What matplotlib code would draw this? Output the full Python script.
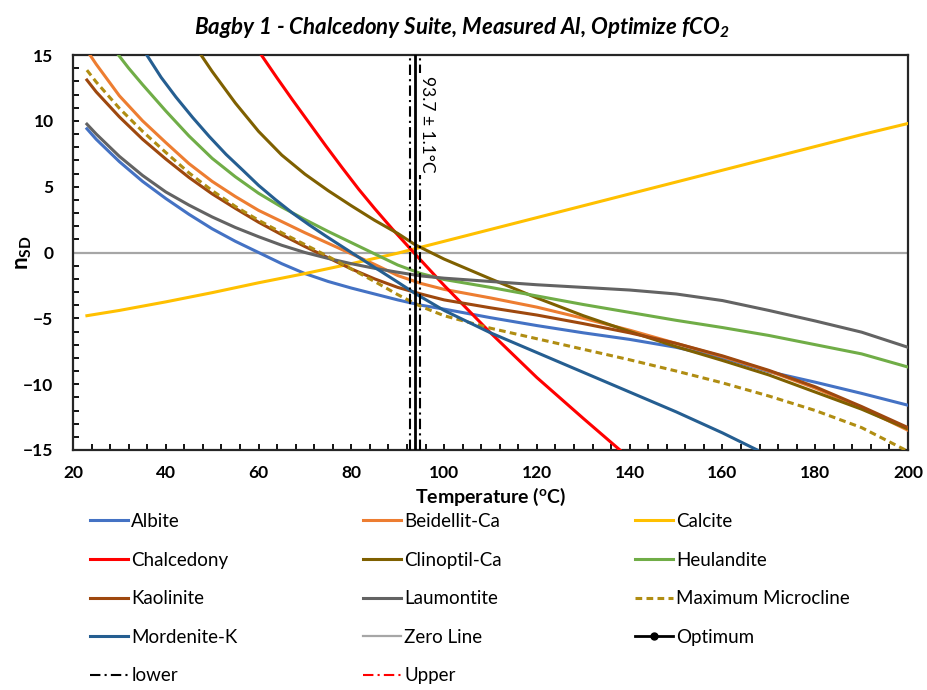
import matplotlib
matplotlib.use("Agg")
import matplotlib.pyplot as plt
from matplotlib.lines import Line2D
from matplotlib.ticker import MultipleLocator

plt.rcParams['font.family'] = ['Lato', 'DejaVu Sans']
plt.rcParams['mathtext.fontset'] = 'custom'
plt.rcParams['mathtext.rm'] = 'Lato:bold:italic'
plt.rcParams['mathtext.it'] = 'Lato:italic'
plt.rcParams['mathtext.bf'] = 'Lato:bold'

# ---- data: saturation index (n_SD) versus temperature (°C) ----
t_albite = [23, 25, 30, 35, 40, 45, 50, 55, 60, 65, 70, 75, 80, 85, 90, 95, 100,
            110, 120, 130, 140, 150, 160, 170, 180, 190, 200]
v_albite = [9.4, 8.6, 6.9, 5.4, 4.1, 2.9, 1.8, 0.85, 0.0, -0.85, -1.6, -2.2, -2.7, -3.15, -3.6, -4.0, -4.3,
            -4.95, -5.55, -6.1, -6.6, -7.2, -8.0, -9.05, -9.85, -10.7, -11.6]

t_beidellit = [23, 25, 30, 35, 40, 45, 50, 55, 60, 65, 70, 75, 80, 85, 90, 95, 100,
               110, 120, 130, 140, 150, 160, 170, 180, 190, 200]
v_beidellit = [15.35, 14.3, 11.9, 10.0, 8.35, 6.75, 5.4, 4.25, 3.2, 2.35, 1.5, 0.7, -0.1, -0.9, -1.75, -2.35, -2.8,
               -3.45, -4.15, -5.0, -5.9, -6.9, -7.9, -9.0, -10.3, -11.8, -13.5]

t_calcite = [23, 30, 40, 50, 60, 70, 80, 90, 100, 110, 120, 130, 140, 150, 160, 170, 180, 190, 200]
v_calcite = [-4.8, -4.4, -3.75, -3.05, -2.3, -1.6, -0.85, -0.05, 0.85, 1.75, 2.65, 3.55, 4.45, 5.35,
             6.25, 7.15, 8.05, 8.95, 9.8]

t_chalcedony = [60.6, 64, 67.3, 71, 74.5, 78, 81.6, 85, 88.8, 93.7, 100, 110, 120, 130, 137.9]
v_chalcedony = [15.0, 13.25, 11.6, 9.8, 8.1, 6.45, 4.8, 3.35, 1.8, -0.1, -2.5, -6.1, -9.5, -12.6, -15.0]

t_clinoptil = [47.6, 50, 55, 60, 65, 70, 75, 80, 85, 90, 93.7, 100, 110, 120, 130, 140, 150, 160, 170,
               180, 190, 200]
v_clinoptil = [15.0, 13.75, 11.35, 9.2, 7.4, 5.95, 4.7, 3.55, 2.45, 1.45, 0.6, -0.5, -2.0, -3.45, -4.8, -6.0,
               -7.15, -8.2, -9.3, -10.6, -11.9, -13.4]

t_heulandite = [29.8, 32, 35, 40, 45, 50, 55, 60, 65, 70, 75, 80, 85, 90, 95, 100, 110, 120, 130, 140, 150,
                160, 170, 180, 190, 200]
v_heulandite = [15.0, 14.0, 12.75, 10.75, 8.85, 7.15, 5.75, 4.5, 3.45, 2.5, 1.6, 0.75, -0.1, -0.95, -1.6, -2.05,
                -2.65, -3.3, -3.95, -4.55, -5.15, -5.7, -6.3, -7.0, -7.7, -8.7]

t_kaolinite = [23, 25, 30, 35, 40, 45, 50, 55, 60, 65, 70, 75, 80, 85, 90, 95, 100,
               110, 120, 130, 140, 150, 160, 170, 180, 190, 200]
v_kaolinite = [13.1, 12.2, 10.3, 8.6, 7.1, 5.7, 4.45, 3.35, 2.3, 1.35, 0.45, -0.4, -1.25, -2.0, -2.65, -3.15, -3.6,
               -4.2, -4.75, -5.4, -6.1, -6.9, -7.85, -8.95, -10.2, -11.7, -13.3]

t_laumontite = [23, 25, 30, 35, 40, 45, 50, 55, 60, 65, 70, 75, 80, 85, 90, 95, 100,
                110, 120, 130, 140, 150, 160, 170, 180, 190, 200]
v_laumontite = [9.75, 9.0, 7.3, 5.85, 4.6, 3.6, 2.7, 1.9, 1.2, 0.55, 0.0, -0.45, -0.85, -1.2, -1.5, -1.78, -1.95,
                -2.2, -2.45, -2.65, -2.85, -3.15, -3.65, -4.4, -5.2, -6.05, -7.2]

t_microcline = [23, 25, 30, 35, 40, 45, 50, 55, 60, 65, 70, 75, 80, 85, 90, 95, 100,
                110, 120, 130, 140, 150, 160, 170, 180, 190, 200]
v_microcline = [13.85, 12.95, 10.95, 9.2, 7.6, 6.05, 4.7, 3.5, 2.45, 1.5, 0.6, -0.3, -1.25, -2.2, -3.2, -4.1, -4.8,
                -5.75, -6.55, -7.35, -8.15, -9.0, -9.9, -10.9, -12.0, -13.3, -15.1]

t_mordenite = [35.9, 39, 42.2, 45.8, 49.4, 53, 56.6, 60, 63.7, 67.3, 70.9, 74.5, 78.1, 82, 86, 90, 93.7,
               100, 110, 120, 130, 140, 150, 160, 167.5]
v_mordenite = [15.0, 13.3, 11.8, 10.25, 8.8, 7.45, 6.25, 5.1, 4.0, 3.0, 2.1, 1.25, 0.43, -0.45, -1.35, -2.25,
               -3.1, -4.4, -6.1, -7.6, -9.1, -10.6, -12.1, -13.7, -15.0]

t_zero = [20, 200]
v_zero = [0, 0]

t_optimum = 93.7
t_error = 1.1
y_span = [-15, 15]

series = [
    ("Albite", t_albite, v_albite, "#4472C4", "-"),
    ("Beidellit-Ca", t_beidellit, v_beidellit, "#ED7D31", "-"),
    ("Calcite", t_calcite, v_calcite, "#FFC000", "-"),
    ("Chalcedony", t_chalcedony, v_chalcedony, "#FF0000", "-"),
    ("Clinoptil-Ca", t_clinoptil, v_clinoptil, "#7F6000", "-"),
    ("Heulandite", t_heulandite, v_heulandite, "#70AD47", "-"),
    ("Kaolinite", t_kaolinite, v_kaolinite, "#9E480E", "-"),
    ("Laumontite", t_laumontite, v_laumontite, "#636363", "-"),
    ("Maximum Microcline", t_microcline, v_microcline, "#B08D12", (0, (2.2, 1.4))),
    ("Mordenite-K", t_mordenite, v_mordenite, "#255E91", "-"),
]

fig = plt.figure(figsize=(9.27, 6.9), dpi=100)
ax = fig.add_axes([73 / 927, 1 - 450 / 690, (908 - 73) / 927, (450 - 55) / 690])

handles = {}
handles["Zero Line"], = ax.plot(t_zero, v_zero, color="#A6A6A6", lw=1.6, zorder=2)
for name, t, v, c, ls in series:
    h, = ax.plot(t, v, color=c, lw=2.2, ls=ls, zorder=3, solid_joinstyle="round")
    handles[name] = h

dashdot = (0, (5, 2, 1, 2))
ax.plot([t_optimum - t_error] * 2, y_span, color="black", lw=1.5, ls=dashdot, zorder=4)
ax.plot([t_optimum + t_error] * 2, y_span, color="black", lw=1.5, ls=dashdot, zorder=4)
ax.plot([t_optimum] * 2, y_span, color="black", lw=2.0, zorder=5)

ax.text(t_optimum + 2.7, 13.4, f"{t_optimum} \u00b1 {t_error}\u00b0C", rotation=270,
        ha="center", va="top", fontsize=12.5, zorder=6,
        bbox=dict(facecolor="white", edgecolor="none", pad=2))

handles["Optimum"] = Line2D([0, 1], [0, 0], color="black", lw=2.0, marker="o", markersize=5,
                            markevery=[1])
handles["lower"] = Line2D([], [], color="black", lw=1.5, ls=dashdot)
handles["Upper"] = Line2D([], [], color="red", lw=1.5, ls=dashdot)

ax.set_xlim(20, 200)
ax.set_ylim(-15, 15)
ax.xaxis.set_major_locator(MultipleLocator(20))
ax.xaxis.set_minor_locator(MultipleLocator(4))
ax.yaxis.set_major_locator(MultipleLocator(5))
ax.yaxis.set_minor_locator(MultipleLocator(1))
ax.tick_params(which="both", direction="in", top=False, right=False, width=1.3, length=4.5)
ax.tick_params(axis="x", pad=11, labelsize=12.5)
ax.tick_params(axis="y", pad=14, labelsize=12.5)
for lab in ax.get_xticklabels() + ax.get_yticklabels():
    lab.set_fontweight("bold")
for s in ax.spines.values():
    s.set_linewidth(1.6)
    s.set_color("#262626")

ax.set_xlabel(r"Temperature ($\mathbf{^o}$C)", fontsize=14, fontweight="bold", labelpad=3)
ax.set_ylabel(r"$\mathbf{n}_{\mathbf{SD}}$", fontsize=16, labelpad=-8)
fig.text(462 / 927, 1 - 28 / 690, r"Bagby 1 - Chalcedony Suite, Measured Al, Optimize fCO$_2$",
         ha="center", va="center", fontsize=16, fontweight="bold", fontstyle="italic")

columns = [
    ["Albite", "Chalcedony", "Kaolinite", "Mordenite-K", "lower"],
    ["Beidellit-Ca", "Clinoptil-Ca", "Laumontite", "Zero Line", "Upper"],
    ["Calcite", "Heulandite", "Maximum Microcline", "Optimum"],
]
col_x = [90, 363, 635]
for names, x in zip(columns, col_x):
    fig.legend([handles[n] for n in names], names, loc="upper left",
               bbox_to_anchor=(x / 927, 1 - 513 / 690), frameon=False,
               fontsize=13.5, handlelength=2.0, handletextpad=0.2,
               labelspacing=1.15, borderpad=0, borderaxespad=0)

fig.savefig("out.png", dpi=100)
